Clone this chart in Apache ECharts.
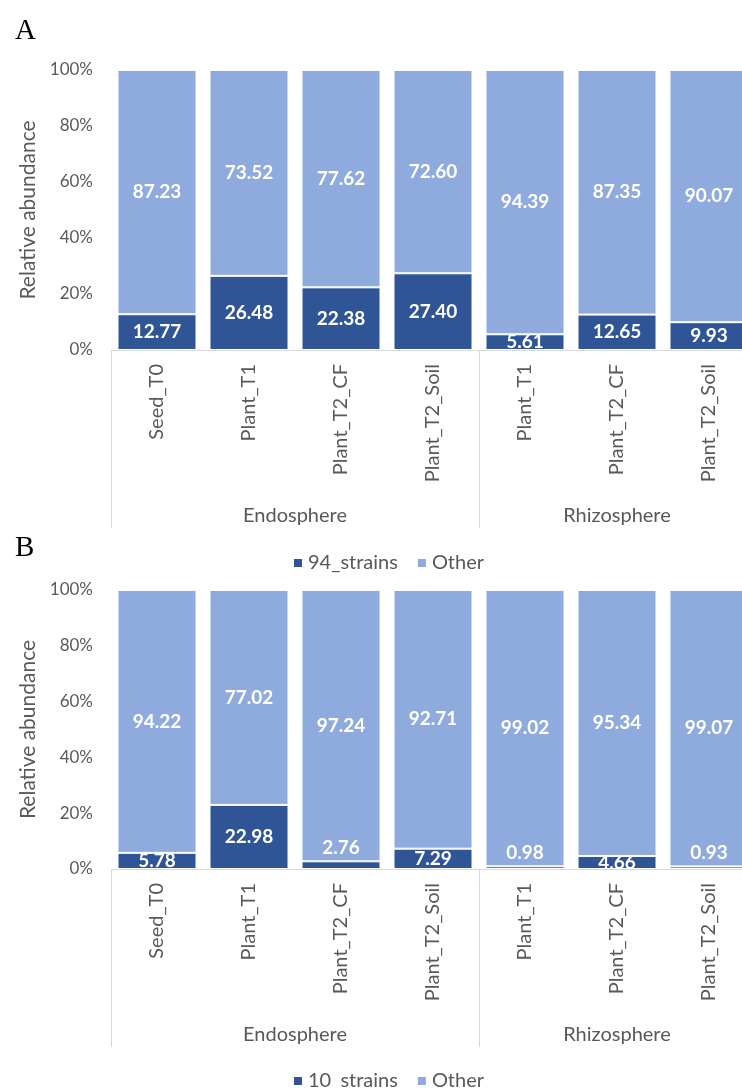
<!DOCTYPE html>
<html><head><meta charset="utf-8">
<script src="https://cdn.jsdelivr.net/npm/echarts@6/dist/echarts.min.js"></script>
<style>html,body{margin:0;padding:0;background:#fff;overflow:hidden}#c{width:742px;height:1088px}</style>
</head><body><div id="c"></div>
<script>
const categories = ['Seed_T0','Plant_T1','Plant_T2_CF','Plant_T2_Soil','Plant_T1','Plant_T2_CF','Plant_T2_Soil'];
const groups = ['Endosphere','Rhizosphere'];
const groupCenters = [2, 5.5];
const groupBounds = [0, 4];
const yTicks = [0,20,40,60,80,100];
const strainsA = [12.77, 26.48, 22.38, 27.40, 5.61, 12.65, 9.93];
const otherA   = [87.23, 73.52, 77.62, 72.60, 94.39, 87.35, 90.07];
const strainsB = [5.78, 22.98, 2.76, 7.29, 0.98, 4.66, 0.93];
const otherB   = [94.22, 77.02, 97.24, 92.71, 99.02, 95.34, 99.07];
const legendA = ['94_strains','Other'];
const legendB = ['10_strains','Other'];

const DARK = '#2F5597', LIGHT = '#8FAADC', GRAY = '#595959', LINE = '#D9D9D9';
const FONT = 'Lato';

function grid(top, height){ return {left:111, width:644, top:top, height:height, containLabel:false, outerBoundsMode:'none'}; }
function catAxis(gi){
  return {type:'category', gridIndex:gi, data:categories,
    axisLine:{show:true, lineStyle:{color:LINE, width:1}},
    axisTick:{show:true, interval:(i)=>groupBounds.indexOf(i)>=0, length:178, lineStyle:{color:LINE}},
    axisLabel:{interval:0, rotate:90, margin:14, color:GRAY, fontSize:20, fontFamily:FONT}};
}
function groupAxis(gi){
  return {type:'value', gridIndex:gi, position:'bottom', offset:150, min:0, max:7,
    axisLine:{show:false}, axisTick:{show:false}, splitLine:{show:false},
    axisLabel:{customValues:groupCenters, margin:6, color:GRAY, fontSize:20, fontFamily:FONT,
      formatter:(v)=>groups[groupCenters.indexOf(v)] || ''}};
}
function valAxis(gi){
  return {type:'value', gridIndex:gi, min:0, max:100, interval:20,
    name:'Relative abundance', nameLocation:'middle', nameGap:70,
    nameTextStyle:{color:GRAY, fontSize:21, fontFamily:FONT},
    axisLine:{show:false}, axisTick:{show:false}, splitLine:{show:false},
    axisLabel:{margin:18, color:GRAY, fontSize:17, fontFamily:FONT, formatter:'{value}%',
      customValues: yTicks}};
}
function labelStyle(){
  return {show:true, color:'#fff', fontSize:19, fontWeight:'bold', fontFamily:FONT,
    formatter:(p)=>Number(p.value).toFixed(2)};
}
function series(name, vals, xi, yi, color){
  return {name:name, type:'bar', stack:'s'+yi, xAxisIndex:xi, yAxisIndex:yi, barWidth:79,
    itemStyle:{color:color, borderColor:'#fff', borderWidth:1},
    label:labelStyle(),
    data: vals.map(v => v < 3 ? {value:v, label:{position:'top', distance:4}} : {value:v, label:{position:'inside'}})};
}
function legend(names, top){
  return {data:names, left:287, top:top, icon:'rect', itemWidth:10, itemHeight:10, itemGap:18,
    textStyle:{color:GRAY, fontSize:20, fontFamily:FONT}};
}

const option = {
  animation:false,
  title:[
    {text:'A', left:10, top:12, textStyle:{fontFamily:'Liberation Serif', fontSize:29, fontWeight:'normal', color:'#000'}},
    {text:'B', left:10, top:529, textStyle:{fontFamily:'Liberation Serif', fontSize:29, fontWeight:'normal', color:'#000'}}
  ],
  legend:[legend(legendA, 548), legend(legendB, 1066)],
  grid:[grid(70, 280), grid(590, 279)],
  xAxis:[catAxis(0), groupAxis(0), catAxis(1), groupAxis(1)],
  yAxis:[valAxis(0), valAxis(1)],
  series:[
    series(legendA[0], strainsA, 0, 0, DARK),
    series(legendA[1], otherA, 0, 0, LIGHT),
    series(legendB[0], strainsB, 2, 1, DARK),
    series(legendB[1], otherB, 2, 1, LIGHT)
  ]
};
const chart = echarts.init(document.getElementById('c'), null, {renderer:'canvas'});
chart.setOption(option);
</script></body></html>
